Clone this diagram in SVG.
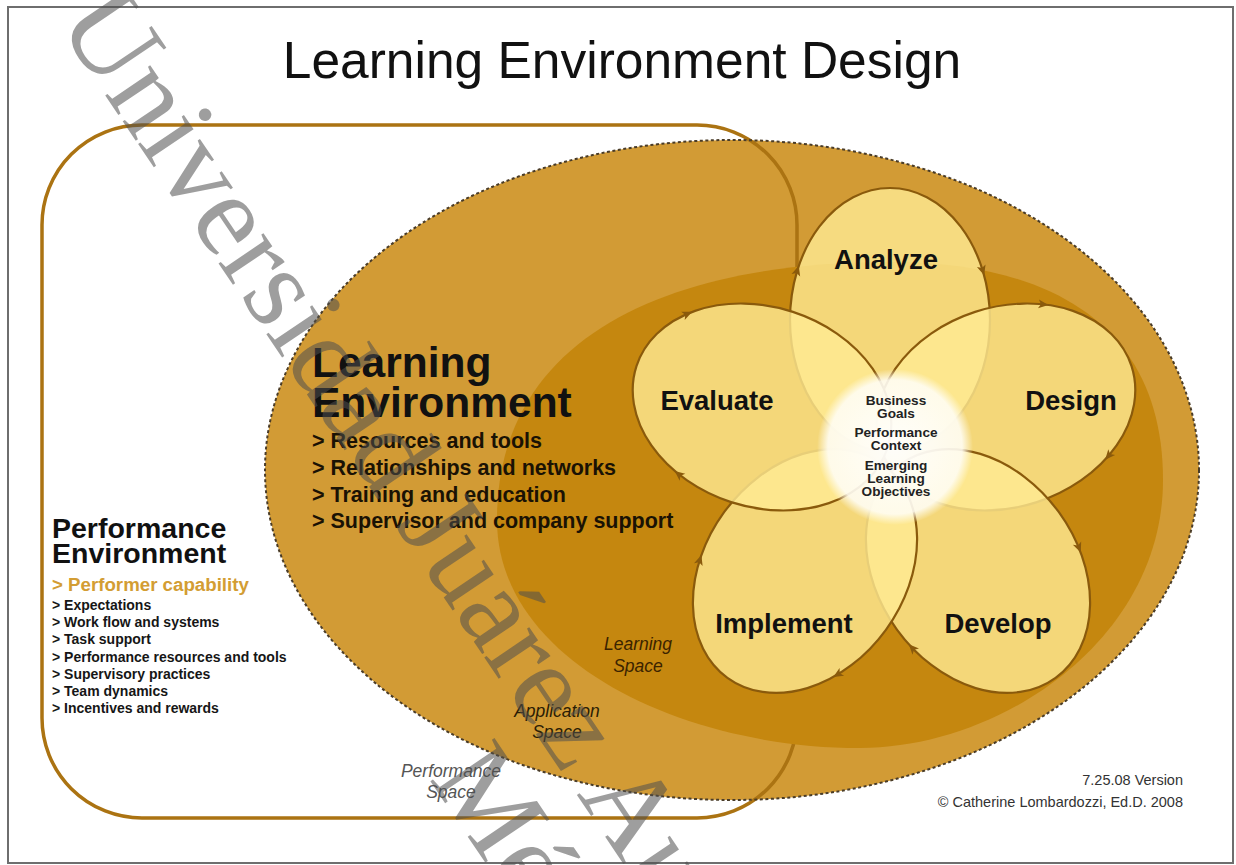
<svg xmlns="http://www.w3.org/2000/svg" xmlns:xlink="http://www.w3.org/1999/xlink" width="1236" height="865" viewBox="0 0 1236 865">
  <defs>
    <style>
      .sans { font-family: "Liberation Sans", Arial, sans-serif; }
      .title { font-size: 51.5px; fill: #111; text-anchor: middle; }
      .heading { font-size: 42.5px; font-weight: bold; fill: #111; }
      .bullet { font-size: 21.5px; font-weight: bold; fill: #1a1204; }
      .perf-head { font-size: 28.5px; font-weight: bold; fill: #111; }
      .perf-item { font-size: 14px; font-weight: bold; fill: #161616; }
      .perf-key { font-size: 18.7px; font-weight: bold; fill: #d39d33; }
      .petal { fill: #ffeb94; fill-opacity: 0.8; stroke: #8a5a0c; stroke-width: 2.2; }
      .petal-label { font-size: 27.5px; font-weight: bold; fill: #111; text-anchor: middle; }
      .core-text { font-size: 13.6px; font-weight: bold; fill: #222; text-anchor: middle; }
      .space-label { font-size: 17.5px; font-style: italic; text-anchor: middle; }
      .credit { font-size: 14.5px; fill: #333; text-anchor: end; }
      .arrow { fill: #8a5a0c; }
      .watermark { font-family: "Liberation Serif", "Times New Roman", serif; font-size: 118px; fill: #4e4e4e; fill-opacity: 0.55; }
    </style>
    <radialGradient id="coreGlow" cx="0.5" cy="0.5" r="0.5">
      <stop offset="0" stop-color="#ffffff" stop-opacity="0.96"/>
      <stop offset="0.86" stop-color="#fffdf4" stop-opacity="0.9"/>
      <stop offset="1" stop-color="#fffdf4" stop-opacity="0"/>
    </radialGradient>
    <path id="arrowhead" d="M5,0 L-5,-4.5 L-2.5,0 L-5,4.5 Z"/>
  </defs>

  <!-- page and frame -->
  <rect x="0" y="0" width="1236" height="865" fill="#ffffff"/>
  <rect x="8" y="7" width="1225" height="856" fill="#ffffff" stroke="#6e6e6e" stroke-width="2"/>

  <text class="sans title" x="622" y="78">Learning Environment Design</text>

  <!-- application space (dashed outer ellipse) -->
  <g id="application-space">
    <ellipse cx="732" cy="470" rx="467" ry="330" fill="#d29b35"/>
  </g>

  <!-- performance space (rounded frame) -->
  <g id="performance-space">
    <rect x="42" y="125" width="755" height="693" rx="100" ry="100" fill="none" stroke="#ab7312" stroke-width="3.5"/>
  </g>

  <ellipse cx="732" cy="470" rx="467" ry="330" fill="none" stroke="#4a3c28" stroke-width="2" stroke-dasharray="3 2.5"/>

  <!-- learning space (inner darker region) -->
  <g id="learning-space">
    <path d="M497,520 C497,330 680,262 890,262 C1070,262 1163,340 1163,480 C1163,640 1000,748 860,748 C680,748 497,660 497,520 Z" fill="#c5870f"/>
  </g>

  <!-- cycle petals, stacked so each overlaps the previous one -->
  <g id="analyze">
    <ellipse class="petal" rx="100" ry="132" transform="translate(890 320)"/>
    <text class="sans petal-label" x="886" y="269">Analyze</text>
  </g>
  <g id="design">
    <ellipse class="petal" rx="100" ry="132" transform="translate(1006 407) rotate(72)"/>
    <text class="sans petal-label" x="1071" y="410">Design</text>
  </g>
  <g id="develop">
    <ellipse class="petal" rx="100" ry="132" transform="translate(978 571) rotate(144)"/>
    <text class="sans petal-label" x="998" y="633">Develop</text>
  </g>
  <g id="implement">
    <ellipse class="petal" rx="100" ry="132" transform="translate(805 571) rotate(216)"/>
    <text class="sans petal-label" x="784" y="633">Implement</text>
  </g>
  <g id="evaluate">
    <ellipse class="petal" rx="100" ry="132" transform="translate(762 407) rotate(288)"/>
    <text class="sans petal-label" x="717" y="410">Evaluate</text>
  </g>

  <!-- centre of the cycle -->
  <g id="core">
    <circle cx="895" cy="447" r="78" fill="url(#coreGlow)"/>
    <text class="sans core-text" x="896" y="405">Business</text>
    <text class="sans core-text" x="896" y="417.5">Goals</text>
    <text class="sans core-text" x="896" y="437">Performance</text>
    <text class="sans core-text" x="896" y="450">Context</text>
    <text class="sans core-text" x="896" y="470">Emerging</text>
    <text class="sans core-text" x="896" y="483">Learning</text>
    <text class="sans core-text" x="896" y="496">Objectives</text>
  </g>

  <!-- clockwise flow arrows on the petal outlines -->
  <g id="connectors" class="arrow">
    <g transform="translate(890 320)">
      <use xlink:href="#arrowhead" transform="translate(-92.7 -49.5) rotate(-73)"/>
      <use xlink:href="#arrowhead" transform="translate(92.7 -49.5) rotate(73)"/>
    </g>
    <g transform="translate(1006 407) rotate(72)">
      <use xlink:href="#arrowhead" transform="translate(-86 -67.3) rotate(-65.8)"/>
      <use xlink:href="#arrowhead" transform="translate(78.2 -82.3) rotate(58.8)"/>
    </g>
    <g transform="translate(978 571) rotate(144)">
      <use xlink:href="#arrowhead" transform="translate(-95.3 -40.5) rotate(-76.3)"/>
      <use xlink:href="#arrowhead" transform="translate(98.4 -23.6) rotate(82.2)"/>
    </g>
    <g transform="translate(805 571) rotate(216)">
      <use xlink:href="#arrowhead" transform="translate(-87.2 -64.6) rotate(-66.9)"/>
      <use xlink:href="#arrowhead" transform="translate(91.6 -52.8) rotate(71.7)"/>
    </g>
    <g transform="translate(762 407) rotate(288)">
      <use xlink:href="#arrowhead" transform="translate(-89.6 -58.6) rotate(-69.4)"/>
      <use xlink:href="#arrowhead" transform="translate(65.6 -99.6) rotate(48.9)"/>
    </g>
  </g>

  <!-- learning environment description -->
  <g id="learning-environment">
    <text class="sans heading" x="312" y="377">Learning</text>
    <text class="sans heading" x="312" y="417">Environment</text>
    <text class="sans bullet" x="312" y="448">&gt; Resources and tools</text>
    <text class="sans bullet" x="312" y="475">&gt; Relationships and networks</text>
    <text class="sans bullet" x="312" y="502">&gt; Training and education</text>
    <text class="sans bullet" x="312" y="528">&gt; Supervisor and company support</text>
  </g>

  <!-- performance environment description -->
  <g id="performance-environment">
    <text class="sans perf-head" x="52" y="538">Performance</text>
    <text class="sans perf-head" x="52" y="563">Environment</text>
    <text class="sans perf-key" x="52" y="591">&gt; Performer capability</text>
    <text class="sans perf-item" x="52" y="610">&gt; Expectations</text>
    <text class="sans perf-item" x="52" y="627">&gt; Work flow and systems</text>
    <text class="sans perf-item" x="52" y="644">&gt; Task support</text>
    <text class="sans perf-item" x="52" y="662">&gt; Performance resources and tools</text>
    <text class="sans perf-item" x="52" y="679">&gt; Supervisory practices</text>
    <text class="sans perf-item" x="52" y="696">&gt; Team dynamics</text>
    <text class="sans perf-item" x="52" y="713">&gt; Incentives and rewards</text>
  </g>

  <!-- space labels -->
  <g id="space-labels">
    <text class="sans space-label" fill="#3b2300" x="638" y="650">Learning</text>
    <text class="sans space-label" fill="#3b2300" x="638" y="672">Space</text>
    <text class="sans space-label" fill="#2b1d05" x="557" y="717">Application</text>
    <text class="sans space-label" fill="#2b1d05" x="557" y="738">Space</text>
    <text class="sans space-label" fill="#555555" x="451" y="777">Performance</text>
    <text class="sans space-label" fill="#555555" x="451" y="798">Space</text>
  </g>

  <g id="credits">
    <text class="sans credit" x="1183" y="785">7.25.08 Version</text>
    <text class="sans credit" x="1183" y="807">© Catherine Lombardozzi, Ed.D. 2008</text>
  </g>

  <!-- diagonal institutional stamp over the page -->
  <g id="stamp" transform="translate(56 22.5) rotate(56)">
    <text class="watermark" x="0" y="0">Universidad Juárez Autónoma de Tabasco</text>
    <text class="watermark" x="835" y="114">México</text>
  </g>
</svg>
